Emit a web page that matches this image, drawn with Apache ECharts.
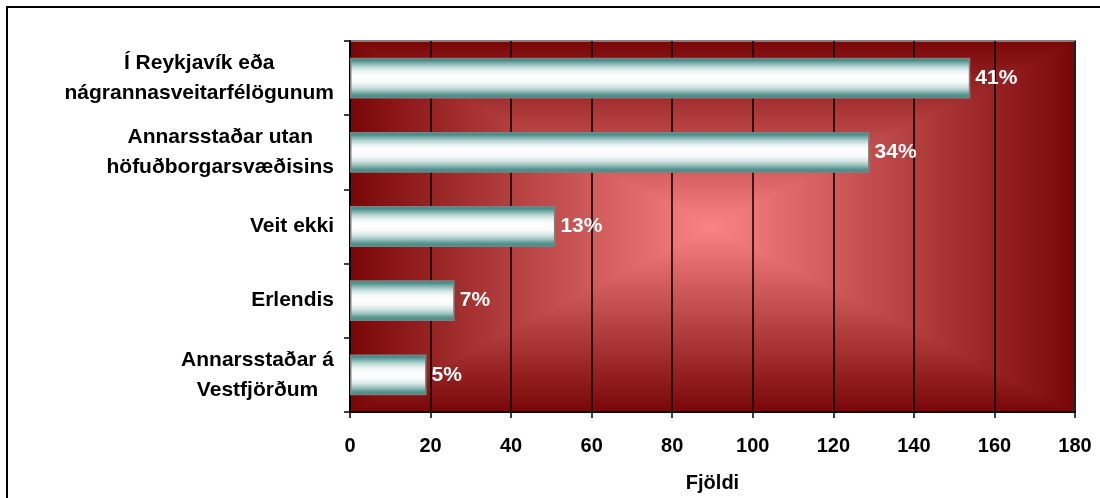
<!DOCTYPE html>
<html>
<head>
<meta charset="utf-8">
<script src="https://cdn.jsdelivr.net/npm/echarts@6/dist/echarts.min.js"></script>
<style>
html,body{margin:0;padding:0;background:#fff;}
#chart{width:1100px;height:498px;}
</style>
</head>
<body>
<div id="chart"></div>
<script>
const categories = [
  ['Í Reykjavík eða', 'nágrannasveitarfélögunum'],
  ['Annarsstaðar utan', 'höfuðborgarsvæðisins'],
  ['Veit ekki'],
  ['Erlendis'],
  ['Annarsstaðar á', 'Vestfjörðum']
];
const counts = [154, 129, 51, 26, 19];
const percentLabels = ['41%', '34%', '13%', '7%', '5%'];
const xMin = 0, xMax = 180, xStep = 20;
const axisTitle = 'Fjöldi';

const FONT = '"Liberation Sans", Arial, sans-serif';
const EDGE = '#7a0707';
const CENTER = '#fa8484';

const chart = echarts.init(document.getElementById('chart'), null, {renderer: 'canvas'});

const barGradient = new echarts.graphic.LinearGradient(0, 0, 0, 1, [
  {offset: 0, color: '#3d8783'},
  {offset: 0.07, color: '#4a908c'},
  {offset: 0.14, color: '#80b2af'},
  {offset: 0.24, color: '#c3dcda'},
  {offset: 0.34, color: '#eef5f5'},
  {offset: 0.45, color: '#ffffff'},
  {offset: 0.6, color: '#f6faf9'},
  {offset: 0.72, color: '#d2e4e2'},
  {offset: 0.82, color: '#97c0bd'},
  {offset: 0.91, color: '#57958f'},
  {offset: 1, color: '#3d8783'}
]);

chart.setOption({
  animation: false,
  backgroundColor: '#ffffff',
  grid: {left: 350, right: 25, top: 41, bottom: 86, containLabel: false,
         show: true, backgroundColor: 'transparent', borderColor: '#808080', borderWidth: 2},
  xAxis: {
    type: 'value', min: xMin, max: xMax, interval: xStep,
    name: axisTitle, nameLocation: 'middle', nameGap: 61,
    nameTextStyle: {fontFamily: FONT, fontWeight: 'bold', fontSize: 20, color: '#000'},
    axisLine: {show: true, lineStyle: {color: '#000', width: 2}},
    axisTick: {show: true, length: 6, lineStyle: {color: '#000', width: 1.5}},
    axisLabel: {fontFamily: FONT, fontWeight: 'bold', fontSize: 20, color: '#000', margin: 24},
    splitLine: {show: true, lineStyle: {color: '#000', width: 1.5}}
  },
  yAxis: {
    type: 'category', inverse: true,
    data: categories.map(c => c.join('\n')),
    axisLine: {show: true, lineStyle: {color: '#000', width: 2}},
    axisTick: {show: true, length: 6, lineStyle: {color: '#000', width: 1.5}},
    axisLabel: {
      margin: 16, align: 'right',
      formatter: function (v) {
        return v.split('\n').map(s => '{c|' + s + '}').join('\n');
      },
      rich: {c: {fontFamily: FONT, fontWeight: 'bold', fontSize: 21, color: '#000', align: 'center', lineHeight: 30}}
    },
    splitLine: {show: false}
  },
  series: [{
    type: 'bar',
    data: counts,
    barWidth: '55%',
    itemStyle: {color: barGradient, borderColor: '#808080', borderWidth: 1.5},
    label: {
      show: true, position: 'right', distance: 5,
      formatter: p => percentLabels[p.dataIndex],
      fontFamily: FONT, fontWeight: 'bold', fontSize: 21, color: '#ffffff'
    },
    z: 3
  }]
});

// Rectangular "from centre" background gradient built from the grid rectangle
const rect = chart.getModel().getComponent('grid', 0).coordinateSystem.getRect();
const L = rect.x, T = rect.y, R = rect.x + rect.width, B = rect.y + rect.height;
const cx = (L + R) / 2, cy = (T + B) / 2;
const o = 1.5;
function lg(x, y, x2, y2) {
  return new echarts.graphic.LinearGradient(x, y, x2, y2, [
    {offset: 0, color: EDGE}, {offset: 1, color: CENTER}
  ]);
}
chart.setOption({
  graphic: [
    {type: 'rect', z: -20, silent: true, shape: {x: L, y: T, width: rect.width, height: rect.height},
     style: {fill: new echarts.graphic.RadialGradient(0.5, 0.5, 0.6, [{offset: 0, color: CENTER}, {offset: 1, color: EDGE}])}},
    {type: 'polygon', z: -12, silent: true, shape: {points: [[L, T], [L, B], [cx, cy]]}, style: {fill: lg(0, 0, 1, 0)}},
    {type: 'polygon', z: -12, silent: true, shape: {points: [[R, T], [R, B], [cx, cy]]}, style: {fill: lg(1, 0, 0, 0)}},
    {type: 'polygon', z: -10, silent: true, shape: {points: [[L - o, T], [R + o, T], [cx + o, cy], [cx - o, cy]]}, style: {fill: lg(0, 0, 0, 1)}},
    {type: 'polygon', z: -10, silent: true, shape: {points: [[L - o, B], [R + o, B], [cx + o, cy], [cx - o, cy]]}, style: {fill: lg(0, 1, 0, 0)}},
    {type: 'rect', z: 10, silent: true, shape: {x: 7, y: 7, width: 1110, height: 520},
     style: {fill: 'none', stroke: '#000', lineWidth: 2}}
  ]
});
</script>
</body>
</html>
